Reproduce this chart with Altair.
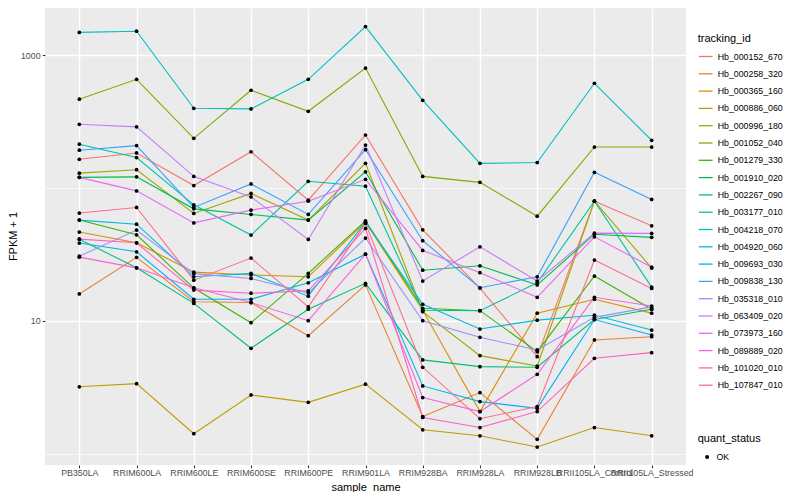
import altair as alt
import pandas as pd

samples = ["PB350LA", "RRIM600LA", "RRIM600LE", "RRIM600SE", "RRIM600PE",
           "RRIM901LA", "RRIM928BA", "RRIM928LA", "RRIM928LB",
           "RRII105LA_Control", "RRII105LA_Stressed"]

ids = ["Hb_000152_670", "Hb_000258_320", "Hb_000365_160", "Hb_000886_060",
       "Hb_000996_180", "Hb_001052_040", "Hb_001279_330", "Hb_001910_020",
       "Hb_002267_090", "Hb_003177_010", "Hb_004218_070", "Hb_004920_060",
       "Hb_009693_030", "Hb_009838_130", "Hb_035318_010", "Hb_063409_020",
       "Hb_073973_160", "Hb_089889_020", "Hb_101020_010", "Hb_107847_010"]

colors = ["#F8766D", "#EA8331", "#D89000", "#C09B00", "#A3A500", "#7CAE00",
          "#39B600", "#00BB4E", "#00BF7D", "#00C1A3", "#00BFC4", "#00BAE0",
          "#00B0F6", "#35A2FF", "#9590FF", "#C77CFF", "#E76BF3", "#FA62DB",
          "#FF62BC", "#FF6C91"]

# FPKM + 1 per sample, in the order of `samples`
Hb_000152_670 = [164, 183, 104, 187, 80.8, 250, 48.3, 17.6, 5.36, 79.4, 51.8]
Hb_000258_320 = [15.9, 30.0, 13.9, 13.7, 7.71, 18.6, 1.90, 2.88, 1.28, 7.16, 7.58]
Hb_000365_160 = [46.5, 38.6, 23.2, 22.1, 21.4, 55.2, 12.0, 2.07, 11.4, 14.5, 11.4]
Hb_000886_060 = [3.18, 3.36, 1.41, 2.76, 2.43, 3.33, 1.51, 1.36, 1.12, 1.57, 1.36]
Hb_000996_180 = [129, 137, 64.2, 90.8, 57.2, 153, 11.7, 5.46, 4.56, 79.4, 24.9]
Hb_001052_040 = [465, 656, 236, 543, 377, 798, 122, 110, 61.2, 203, 203]
Hb_001279_330 = [57.2, 44.3, 17.6, 9.66, 22.7, 56.5, 12.4, 11.9, 5.85, 21.7, 12.2]
Hb_001910_020 = [120, 121, 69.5, 63.1, 57.2, 132, 24.0, 25.9, 18.6, 44.8, 42.4]
Hb_002267_090 = [41.1, 25.0, 13.5, 6.20, 12.2, 19.1, 5.07, 4.51, 4.46, 10.2, 12.2]
Hb_003177_010 = [213, 169, 74.5, 44.1, 112, 103, 12.0, 11.9, 19.3, 79.4, 17.9]
Hb_004218_070 = [1480, 1510, 397, 393, 656, 1636, 456, 153, 155, 613, 228]
Hb_004920_060 = [57.2, 53.3, 21.4, 22.7, 15.3, 55.2, 13.3, 8.66, 10.1, 11.0, 8.51]
Hb_009693_030 = [38.4, 33.0, 14.5, 14.5, 19.3, 31.7, 3.23, 2.46, 2.19, 10.2, 7.80]
Hb_009838_130 = [192, 208, 71.2, 107, 63.1, 194, 40.0, 17.7, 21.4, 131, 81.8]
Hb_035318_010 = [30.6, 48.1, 22.6, 20.8, 16.2, 41.9, 10.0, 7.50, 6.02, 10.6, 12.7]
Hb_063409_020 = [301, 288, 122, 85.5, 40.9, 210, 19.9, 36.0, 19.9, 45.6, 45.4]
Hb_073973_160 = [120, 94.9, 54.5, 68.0, 79.4, 116, 33.8, 23.0, 15.0, 42.8, 25.3]
Hb_089889_020 = [30.1, 25.0, 17.7, 13.7, 10.0, 31.7, 2.64, 2.07, 3.95, 15.0, 12.9]
Hb_101020_010 = [41.1, 38.6, 17.0, 16.1, 16.8, 49.5, 1.87, 1.57, 2.07, 5.21, 5.75]
Hb_107847_010 = [64.6, 71.2, 20.2, 29.6, 12.7, 54.0, 4.46, 1.83, 2.26, 28.6, 17.5]

series = [Hb_000152_670, Hb_000258_320, Hb_000365_160, Hb_000886_060,
          Hb_000996_180, Hb_001052_040, Hb_001279_330, Hb_001910_020,
          Hb_002267_090, Hb_003177_010, Hb_004218_070, Hb_004920_060,
          Hb_009693_030, Hb_009838_130, Hb_035318_010, Hb_063409_020,
          Hb_073973_160, Hb_089889_020, Hb_101020_010, Hb_107847_010]

quant_status = "OK"

rows = []
for tid, vals in zip(ids, series):
    for s, v in zip(samples, vals):
        rows.append({"sample_name": s, "tracking_id": tid, "fpkm": v,
                     "quant_status": quant_status})
df = pd.DataFrame(rows)

FONT = "Liberation Sans"
major = "datum.value == 10 || datum.value == 1000"

x = alt.X("sample_name:N", sort=samples,
          scale=alt.Scale(type="point", padding=0.6),
          axis=alt.Axis(title="sample_name", labelAngle=0, labelOverlap=False,
                        labelFontSize=8.8, labelColor="#4D4D4D", labelPadding=0.5,
                        tickColor="#333333", tickSize=2.75, tickWidth=1.07,
                        grid=True, gridColor="white", gridWidth=1.4,
                        domain=False, titleFontSize=11, titleFontWeight="normal",
                        titleColor="black", titlePadding=4.5))

y = alt.Y("fpkm:Q",
          scale=alt.Scale(type="log", domain=[0.82, 2259], nice=False),
          axis=alt.Axis(title="FPKM + 1", values=[1, 10, 100, 1000],
                        labelExpr=f"({major}) ? format(datum.value, 'd') : ''",
                        labelFontSize=8.8, labelColor="#4D4D4D", labelPadding=2.2,
                        tickColor={"condition": {"test": major, "value": "#333333"},
                                   "value": "transparent"},
                        tickSize=2.75, tickWidth=1.07,
                        grid=True, gridColor="white",
                        gridWidth={"condition": {"test": major, "value": 1.4},
                                   "value": 0.7},
                        domain=False, titleFontSize=11, titleFontWeight="normal",
                        titleColor="black", titleX=-32, titleY=228,
                        titleBaseline="middle", titleAngle=-90))

lines = alt.Chart(df).mark_line(strokeWidth=1.1).encode(
    x=x, y=y,
    color=alt.Color("tracking_id:N",
                    scale=alt.Scale(domain=ids, range=colors),
                    legend=alt.Legend(title="tracking_id", orient="none",
                                      legendX=652.7, legendY=24.5,
                                      symbolType="stroke", symbolSize=190,
                                      symbolStrokeWidth=1.3, rowPadding=4.3,
                                      labelFontSize=8.8, labelColor="black",
                                      titleFontSize=11, titleFontWeight="normal",
                                      titleColor="black", titlePadding=5,
                                      labelOffset=4, padding=0)),
)

points = alt.Chart(df).mark_point(filled=True, size=14, color="black", opacity=1).encode(
    x=x, y=y,
    shape=alt.Shape("quant_status:N",
                    scale=alt.Scale(domain=["OK"], range=["circle"]),
                    legend=alt.Legend(title="quant_status", orient="none",
                                      legendX=652.7, legendY=424.5,
                                      symbolSize=16, symbolFillColor="black",
                                      symbolStrokeColor="black",
                                      symbolOffset=5, labelOffset=5,
                                      labelFontSize=8.8, labelColor="black",
                                      titleFontSize=11, titleFontWeight="normal",
                                      titleColor="black", titlePadding=9,
                                      padding=0)),
)

chart = alt.layer(lines, points).properties(
    width=641, height=457,
    autosize=alt.AutoSizeParams(type="none"),
    padding={"left": 37, "top": 0, "right": 106, "bottom": 27},
).configure(font=FONT).configure_view(fill="#EBEBEB", strokeWidth=0)

chart.save("out.html", embed_options={"renderer": "svg", "actions": False})
